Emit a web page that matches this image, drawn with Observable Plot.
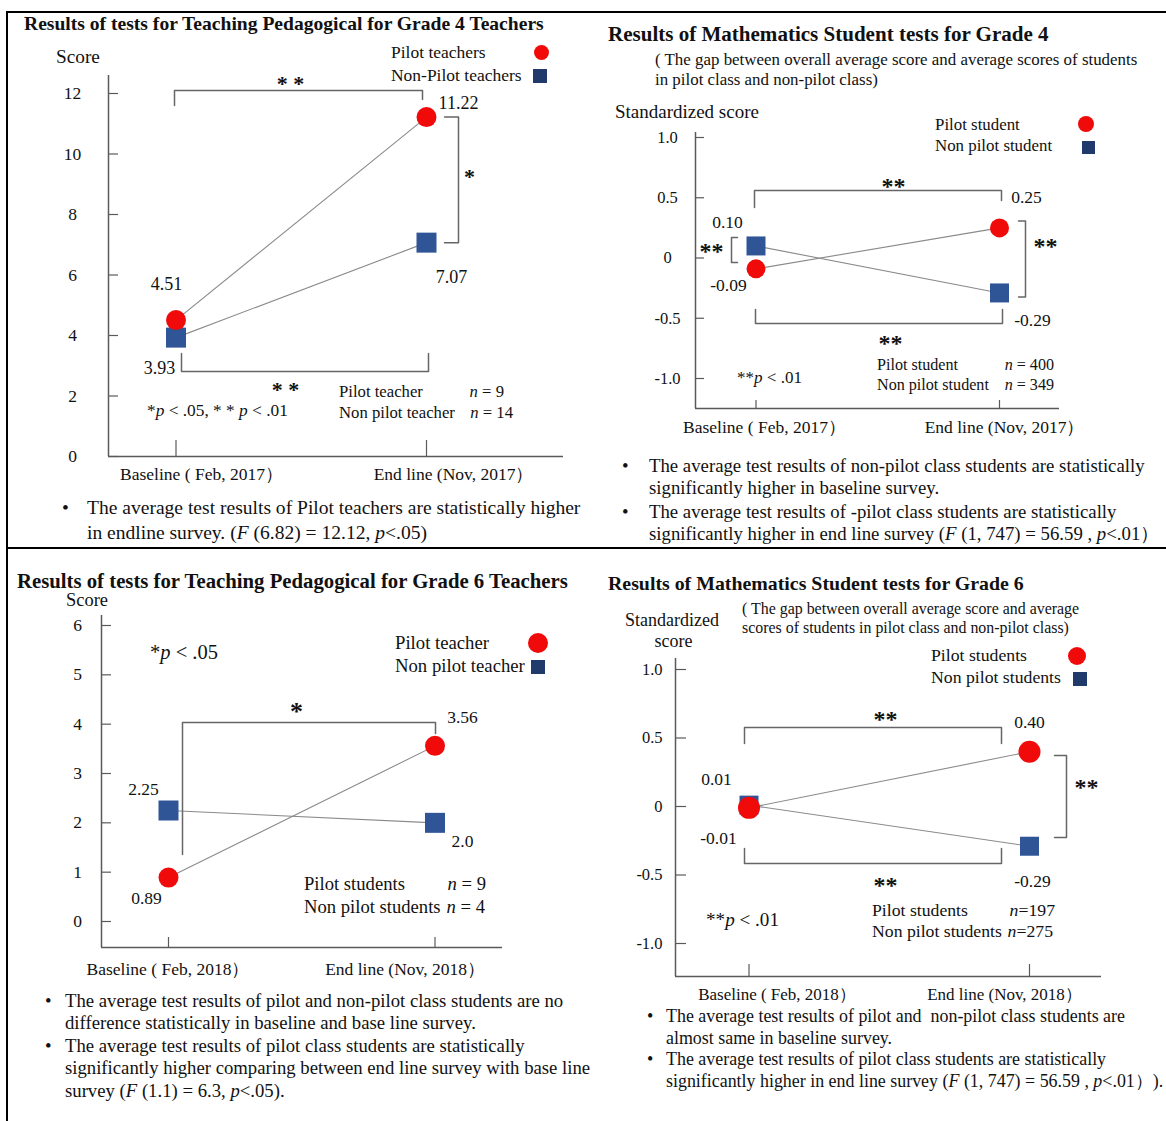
<!DOCTYPE html>
<html><head><meta charset="utf-8">
<script src="https://cdn.jsdelivr.net/npm/d3@7"></script>
<script src="https://cdn.jsdelivr.net/npm/@observablehq/plot@0.6"></script>
<style>
body{margin:0;background:#fff;}
#page{position:relative;width:1166px;height:1121px;overflow:hidden;background:#fff;font-family:"Liberation Serif","Times New Roman",Times,serif;color:#111;}
.t{position:absolute;white-space:pre;line-height:1;}
</style></head>
<body><div id="page"></div>
<script>
// ================= DATA =================
const periods2017 = ["Baseline ( Feb, 2017）", "End line (Nov, 2017）"];
const periods2018 = ["Baseline ( Feb, 2018）", "End line (Nov, 2018）"];

// Grade 4 teachers (score)
const g4TeacherPilot = [4.51, 11.22];
const g4TeacherNonPilot = [3.93, 7.07];
const g4TeacherPilotLabels = ["4.51", "11.22"];
const g4TeacherNonPilotLabels = ["3.93", "7.07"];
const g4TeacherTicks = [0, 2, 4, 6, 8, 10, 12];
const g4TeacherTickLabels = ["0", "2", "4", "6", "8", "10", "12"];
const g4TeacherN = [9, 14];

// Grade 4 students (standardized score)
const g4StudentPilot = [-0.09, 0.25];
const g4StudentNonPilot = [0.10, -0.29];
const g4StudentPilotLabels = ["-0.09", "0.25"];
const g4StudentNonPilotLabels = ["0.10", "-0.29"];
const g4StudentN = [400, 349];

// Grade 6 teachers (score)
const g6TeacherPilot = [0.89, 3.56];
const g6TeacherNonPilot = [2.25, 2.0];
const g6TeacherPilotLabels = ["0.89", "3.56"];
const g6TeacherNonPilotLabels = ["2.25", "2.0"];
const g6TeacherTicks = [0, 1, 2, 3, 4, 5, 6];
const g6TeacherTickLabels = ["0", "1", "2", "3", "4", "5", "6"];
const g6TeacherN = [9, 4];

// Grade 6 students (standardized score)
const g6StudentPilot = [-0.01, 0.40];
const g6StudentNonPilot = [0.01, -0.29];
const g6StudentPilotLabels = ["-0.01", "0.40"];
const g6StudentNonPilotLabels = ["0.01", "-0.29"];
const g6StudentN = [197, 275];

const stdTicks = [-1.0, -0.5, 0, 0.5, 1.0];
const stdTickLabels = ["-1.0", "-0.5", "0", "0.5", "1.0"];

// ================= STYLE =================
const FONT = '"Liberation Serif","Times New Roman",Times,serif';
const RED = "#f00a0a", BLUE = "#2f5597", NAVY = "#1f3a6b";
const LINEC = "#8a8a8a", AXIS = "#5a5a5a", BRC = "#666";
const page = document.getElementById("page");

function addBox(css) {
  const d = document.createElement("div");
  d.style.cssText = "position:absolute;" + css;
  page.appendChild(d);
  return d;
}

// frame lines of the composite figure
addBox("left:7px;top:11px;width:1159px;height:2px;background:#000;");
addBox("left:7px;top:547px;width:1159px;height:2px;background:#000;");
addBox("left:6px;top:11px;width:2px;height:1110px;background:#000;");

function makePanel(cfg) {
  const {box, frame, xPx, yRef} = cfg;
  const xPer = xPx[1] - xPx[0];
  const xAt = p => (p - xPx[0]) / xPer;
  const [[v0, p0], [v1, p1]] = yRef;
  const yPer = (p0 - p1) / (v1 - v0);
  const yAt = p => v0 + (p0 - p) / yPer;
  const ux = d => d / xPer, uy = d => d / yPer;   // pixel offsets -> data units
  const xd = [xAt(frame.l), xAt(frame.r)];
  const yd = [yAt(frame.b), yAt(frame.t)];
  const P = cfg.pilot, N = cfg.non;
  const rec = (vals, labels, offs) => vals.map((v, i) => ({t: i, v, label: labels[i], ox: offs[i][0], oy: offs[i][1]}));
  const pilotRec = rec(P, cfg.pilotLabels, cfg.pilotOff);
  const nonRec = rec(N, cfg.nonLabels, cfg.nonOff);
  const h = {ux, uy, P, N};
  const bracketPts = cfg.brackets(h).flatMap((b, k) => b.map(([x, y]) => ({x, y, k})));
  const stars = cfg.stars(h);
  const svg = Plot.plot({
    width: box.w, height: box.h,
    marginLeft: frame.l - box.x, marginRight: box.x + box.w - frame.r,
    marginTop: frame.t - box.y, marginBottom: box.y + box.h - frame.b,
    x: {type: "linear", domain: xd, axis: null},
    y: {type: "linear", domain: yd, axis: null},
    style: {fontFamily: FONT, fontSize: "16px", color: "#111", background: "transparent", overflow: "visible"},
    marks: [
      Plot.ruleY(cfg.ticks, {y: d => d, x1: xd[0], x2: xd[0] + ux(cfg.yTickLen), stroke: AXIS, strokeWidth: 1.2}),
      Plot.ruleX([0, 1], {x: d => d, y1: yd[0], y2: yd[0] + uy(cfg.xTickLen), stroke: AXIS, strokeWidth: 1.2}),
      Plot.ruleX([xd[0]], {stroke: AXIS, strokeWidth: 1.5}),
      Plot.ruleY([yd[0]], {stroke: AXIS, strokeWidth: 1.5}),
      Plot.text(cfg.ticks, {x: xd[0], y: d => d, text: (d, i) => cfg.tickLabels[i], dx: cfg.tickDx, textAnchor: cfg.tickAnchor, fontSize: cfg.tickSize, fill: "#111"}),
      Plot.text(cfg.periods, {x: (d, i) => i + ux(cfg.periodDx[i]), y: yd[0] - uy(cfg.periodDy), text: d => d, fontSize: cfg.periodSize, fill: "#111"}),
      Plot.line(nonRec, {x: "t", y: "v", stroke: LINEC, strokeWidth: 1.1}),
      Plot.line(pilotRec, {x: "t", y: "v", stroke: LINEC, strokeWidth: 1.1}),
      Plot.line(bracketPts, {x: "x", y: "y", z: "k", stroke: BRC, strokeWidth: 1.5}),
      Plot.text(stars, {x: "x", y: "y", text: "text", fontSize: cfg.starSize, fontWeight: "bold", fill: "#111", dy: 0.16 * cfg.starSize}),
      Plot.dot(nonRec, {x: "t", y: "v", symbol: "square", r: cfg.squareSide / Math.sqrt(Math.PI), fill: BLUE}),
      Plot.dot(pilotRec, {x: "t", y: "v", r: cfg.circleR, fill: RED}),
      Plot.text([...pilotRec, ...nonRec], {x: d => d.t + ux(d.ox), y: d => d.v - uy(d.oy), text: "label", fontSize: cfg.valueSize, fill: "#111"})
    ]
  });
  svg.style.position = "absolute";
  svg.style.left = box.x + "px";
  svg.style.top = box.y + "px";
  svg.style.maxWidth = "none";
  page.appendChild(svg);
}

// ---------- Panel 1: Grade 4 teachers ----------
makePanel({
  box: {x: 8, y: 14, w: 582, h: 520},
  frame: {l: 108, t: 75, r: 563, b: 456},
  xPx: [175.5, 426], yRef: [[0, 456], [12, 93]],
  pilot: g4TeacherPilot, non: g4TeacherNonPilot,
  pilotLabels: g4TeacherPilotLabels, nonLabels: g4TeacherNonPilotLabels,
  pilotOff: [[-9.5, -36], [32, -13.6]], nonOff: [[-16.5, 31], [25, 35]],
  ticks: g4TeacherTicks, tickLabels: g4TeacherTickLabels, tickDx: -36, tickAnchor: "middle", tickSize: 17.5,
  yTickLen: 10, xTickLen: 16,
  periods: periods2017, periodDx: [25.5, 27], periodDy: 18, periodSize: 17.5,
  valueSize: 18, starSize: 22, circleR: 10, squareSide: 20,
  brackets: ({ux, uy, P, N}) => {
    const top = P[1] + uy(26.6), bot = N[0] - uy(33.9), rx = 1 + ux(32);
    return [
      [[0 + ux(-1.5), top - uy(15)], [0 + ux(-1.5), top], [1 + ux(-4), top], [1 + ux(-4), top - uy(9)]],
      [[rx - ux(14), P[1]], [rx, P[1]], [rx, N[1]], [rx - ux(14), N[1]]],
      [[0 + ux(5.5), bot + uy(18)], [0 + ux(5.5), bot], [1 + ux(2), bot], [1 + ux(2), bot + uy(18)]]
    ];
  },
  stars: ({ux, uy, P, N}) => {
    const top = P[1] + uy(26.6), bot = N[0] - uy(33.9);
    return [
      {x: 0.5 + ux(-10.75), y: top + uy(10), text: "* *"},
      {x: 1 + ux(43), y: (P[1] + N[1]) / 2 + uy(6.4), text: "*"},
      {x: 0.5 + ux(-15.75), y: bot - uy(15), text: "* *"}
    ];
  }
});

// ---------- Panel 2: Grade 4 students ----------
makePanel({
  box: {x: 592, y: 14, w: 574, h: 520},
  frame: {l: 695, t: 132, r: 1059, b: 408},
  xPx: [755.5, 999], yRef: [[-1, 378], [1, 137]],
  pilot: g4StudentPilot, non: g4StudentNonPilot,
  pilotLabels: g4StudentPilotLabels, nonLabels: g4StudentNonPilotLabels,
  pilotOff: [[-27.5, 16.7], [27, -30.4]], nonOff: [[-28.5, -23.5], [33, 27.6]],
  ticks: stdTicks, tickLabels: stdTickLabels, tickDx: -28, tickAnchor: "middle", tickSize: 16.5,
  yTickLen: 9, xTickLen: 8,
  periods: periods2017, periodDx: [8.5, 5], periodDy: 19, periodSize: 17.5,
  valueSize: 17.5, starSize: 24, circleR: 9.5, squareSide: 19,
  brackets: ({ux, uy, P, N}) => {
    const top = P[1] + uy(37.4), bot = N[1] - uy(30.6), rx = 1 + ux(26), lx = 0 + ux(-24.5);
    return [
      [[0 + ux(-1.5), top - uy(17)], [0 + ux(-1.5), top], [1 + ux(2), top], [1 + ux(2), top - uy(10)]],
      [[rx - ux(7), P[1] + uy(7)], [rx, P[1] + uy(7)], [rx, N[1] - uy(4)], [rx - ux(7), N[1] - uy(4)]],
      [[lx + ux(6), N[0] + uy(8.5)], [lx, N[0] + uy(8.5)], [lx, P[0] + uy(6.3)], [lx + ux(6), P[0] + uy(6.3)]],
      [[0 + ux(-0.5), bot + uy(14)], [0 + ux(-0.5), bot], [1 + ux(3), bot], [1 + ux(3), bot + uy(14)]]
    ];
  },
  stars: ({ux, uy, P, N}) => {
    const top = P[1] + uy(37.4), bot = N[1] - uy(30.6);
    return [
      {x: 0.5 + ux(15.75), y: top + uy(8), text: "**"},
      {x: 1 + ux(46), y: (P[1] + N[1]) / 2 + uy(17.9), text: "**"},
      {x: 0 + ux(-44.5), y: (P[0] + N[0]) / 2 + uy(9.9), text: "**"},
      {x: 0.5 + ux(12.75), y: bot - uy(16), text: "**"}
    ];
  }
});

// ---------- Panel 3: Grade 6 teachers ----------
makePanel({
  box: {x: 8, y: 551, w: 582, h: 440},
  frame: {l: 101, t: 615, r: 502, b: 947},
  xPx: [168, 434.5], yRef: [[0, 921], [6, 625]],
  pilot: g6TeacherPilot, non: g6TeacherNonPilot,
  pilotLabels: g6TeacherPilotLabels, nonLabels: g6TeacherNonPilotLabels,
  pilotOff: [[-22, 21], [27.5, -28.4]], nonOff: [[-25, -21], [27.5, 18.7]],
  ticks: g6TeacherTicks, tickLabels: g6TeacherTickLabels, tickDx: -24, tickAnchor: "middle", tickSize: 17.5,
  yTickLen: 10, xTickLen: 10,
  periods: periods2018, periodDx: [-0.5, -30], periodDy: 22, periodSize: 17.5,
  valueSize: 17.5, starSize: 26, circleR: 10, squareSide: 20,
  brackets: ({ux, uy, P, N}) => {
    const top = P[1] + uy(23.4);
    return [
      [[0 + ux(14), P[0] + uy(23.1)], [0 + ux(14), top], [1 + ux(0.5), top], [1 + ux(0.5), top - uy(11)]]
    ];
  },
  stars: ({ux, uy, P, N}) => {
    const top = P[1] + uy(23.4);
    return [{x: 0.5 + ux(-5.25), y: top + uy(15), text: "*"}];
  }
});

// ---------- Panel 4: Grade 6 students ----------
makePanel({
  box: {x: 592, y: 551, w: 574, h: 460},
  frame: {l: 675, t: 658, r: 1101, b: 976},
  xPx: [748.5, 1029], yRef: [[-1, 943], [1, 669]],
  pilot: g6StudentPilot, non: g6StudentNonPilot,
  pilotLabels: g6StudentPilotLabels, nonLabels: g6StudentNonPilotLabels,
  pilotOff: [[-30.5, 30.6], [0, -29.2]], nonOff: [[-32.5, -25.6], [3, 35.3]],
  ticks: stdTicks, tickLabels: stdTickLabels, tickDx: -13, tickAnchor: "end", tickSize: 16.5,
  yTickLen: 11, xTickLen: 12,
  periods: periods2018, periodDx: [28, -25], periodDy: 18, periodSize: 17,
  valueSize: 17.5, starSize: 24, circleR: 11, squareSide: 19,
  brackets: ({ux, uy, P, N}) => {
    const top = P[1] + uy(24.2), bot = N[1] - uy(17.3), rx = 1 + ux(37);
    return [
      [[0 + ux(-4.5), top - uy(16)], [0 + ux(-4.5), top], [1 + ux(-28), top], [1 + ux(-28), top - uy(16)]],
      [[rx - ux(12), P[1] - uy(3.8)], [rx, P[1] - uy(3.8)], [rx, N[1] + uy(8.7)], [rx - ux(12), N[1] + uy(8.7)]],
      [[0 + ux(-4.5), bot + uy(15)], [0 + ux(-4.5), bot], [1 + ux(-28), bot], [1 + ux(-28), bot + uy(15)]]
    ];
  },
  stars: ({ux, uy, P, N}) => {
    const top = P[1] + uy(24.2), bot = N[1] - uy(17.3);
    return [
      {x: 0.5 + ux(-3.75), y: top + uy(12), text: "**"},
      {x: 1 + ux(57), y: (P[1] + N[1]) / 2 + uy(15.5), text: "**"},
      {x: 0.5 + ux(-3.75), y: bot - uy(18), text: "**"}
    ];
  }
});

// ================= HTML TEXT =================
function textGroup(base, items, bold) {
  const els = items.map(it => {
    const el = document.createElement("div");
    el.className = "t";
    el.innerHTML = it.h;
    el.style.fontSize = base + "px";
    if (bold) el.style.fontWeight = "bold";
    page.appendChild(el);
    return el;
  });
  const ratios = [];
  items.forEach((it, i) => { if (it.w) ratios.push(it.w / els[i].getBoundingClientRect().width); });
  const fs = ratios.length ? base * d3.mean(ratios) : base;
  items.forEach((it, i) => {
    const el = els[i];
    el.style.fontSize = fs + "px";
    const w = el.getBoundingClientRect().width;
    const left = it.a === "m" ? it.x - w / 2 : it.a === "e" ? it.x - w : it.x;
    el.style.left = left + "px";
    el.style.top = (it.y - 0.54 * fs) + "px";
  });
}
function sym(kind, cx, cy, size, color) {
  addBox(`left:${cx - size / 2}px;top:${cy - size / 2}px;width:${size}px;height:${size}px;background:${color};${kind === "c" ? "border-radius:50%;" : ""}`);
}
const nTxt = (n, sp) => `<i>n</i>${sp ? " = " : "="}${n}`;

// Panel 1 texts
textGroup(19, [{h: "Results of tests for Teaching Pedagogical for Grade 4 Teachers", x: 24, y: 25, w: 520}], true);
textGroup(17, [{h: "Score", x: 56, y: 57, w: 44}]);
textGroup(16, [{h: "Pilot teachers", x: 391, y: 53, w: 95}, {h: "Non-Pilot teachers", x: 391, y: 76, w: 130}]);
sym("c", 541, 52, 15, RED); sym("s", 540, 76, 14, NAVY);
textGroup(16, [{h: "*<i>p</i> &lt; .05, * * <i>p</i> &lt; .01", x: 147, y: 411, w: 141}]);
textGroup(16, [{h: "Pilot teacher", x: 339, y: 393}, {h: nTxt(g4TeacherN[0], true), x: 504, y: 393, a: "e"},
  {h: "Non pilot teacher", x: 339, y: 414, w: 116}, {h: nTxt(g4TeacherN[1], true), x: 513, y: 414, a: "e"}]);
textGroup(17, [{h: "•", x: 62, y: 509}, {h: "The average test results of Pilot teachers are statistically higher", x: 87, y: 509, w: 494},
  {h: "in endline survey. (<i>F</i> (6.82) = 12.12, <i>p</i>&lt;.05)", x: 87, y: 534, w: 340}]);

// Panel 2 texts
textGroup(18, [{h: "Results of Mathematics Student tests for Grade 4", x: 608, y: 35, w: 441}], true);
textGroup(15, [{h: "( The gap between overall average score and average scores of students", x: 655, y: 61, w: 483},
  {h: "in pilot class and non-pilot class)", x: 655, y: 81, w: 223}]);
textGroup(17, [{h: "Standardized score", x: 615, y: 112, w: 144}]);
textGroup(15, [{h: "Pilot student", x: 935, y: 126, w: 85}, {h: "Non pilot student", x: 935, y: 147, w: 117}]);
sym("c", 1086, 124, 16, RED); sym("s", 1088, 147, 13, NAVY);
textGroup(16, [{h: "**<i>p</i> &lt; .01", x: 737, y: 378, w: 65}]);
textGroup(15, [{h: "Pilot student", x: 877, y: 366}, {h: nTxt(g4StudentN[0], true), x: 1054, y: 366, a: "e"},
  {h: "Non pilot student", x: 877, y: 386, w: 112}, {h: nTxt(g4StudentN[1], true), x: 1054, y: 386, a: "e"}]);
textGroup(17, [{h: "•", x: 622, y: 467}, {h: "The average test results of non-pilot class students are statistically", x: 649, y: 467, w: 499},
  {h: "significantly higher in baseline survey.", x: 649, y: 489},
  {h: "•", x: 622, y: 513}, {h: "The average test results of -pilot class students are statistically", x: 649, y: 513, w: 472},
  {h: "significantly higher in end line survey (<i>F</i> (1, 747) = 56.59 , <i>p</i>&lt;.01）", x: 649, y: 535, w: 503}]);

// Panel 3 texts
textGroup(19, [{h: "Results of tests for Teaching Pedagogical for Grade 6 Teachers", x: 17, y: 582, w: 551}], true);
textGroup(17, [{h: "Score", x: 66, y: 601, w: 42}]);
textGroup(18, [{h: "*<i>p</i> &lt; .05", x: 150, y: 653, w: 68}]);
textGroup(17, [{h: "Pilot teacher", x: 395, y: 644, w: 94}, {h: "Non pilot teacher", x: 395, y: 667, w: 130}]);
sym("c", 538, 643, 20, RED); sym("s", 538, 667, 14, NAVY);
textGroup(17, [{h: "Pilot students", x: 304, y: 885, w: 101}, {h: nTxt(g6TeacherN[0], true), x: 486, y: 885, a: "e"},
  {h: "Non pilot students", x: 304, y: 908}, {h: nTxt(g6TeacherN[1], true), x: 485, y: 908, a: "e"}]);
textGroup(17, [{h: "•", x: 45, y: 1002}, {h: "The average test results of pilot and non-pilot class students are no", x: 65, y: 1002, w: 498},
  {h: "difference statistically in baseline and base line survey.", x: 65, y: 1024, w: 411},
  {h: "•", x: 45, y: 1047}, {h: "The average test results of pilot class students are statistically", x: 65, y: 1047, w: 459},
  {h: "significantly higher comparing between end line survey with base line", x: 65, y: 1069, w: 526},
  {h: "survey (<i>F</i> (1.1) = 6.3, <i>p</i>&lt;.05).", x: 65, y: 1092, w: 220}]);

// Panel 4 texts
textGroup(18, [{h: "Results of Mathematics Student tests for Grade 6", x: 608, y: 585, w: 416}], true);
textGroup(17, [{h: "Standardized", x: 672, y: 621, w: 94, a: "m"}, {h: "score", x: 673.5, y: 642, a: "m"}]);
textGroup(14, [{h: "( The gap between overall average score and average", x: 742, y: 610, w: 338},
  {h: "scores of students in pilot class and non-pilot class)", x: 742, y: 629, w: 327}]);
textGroup(16, [{h: "Pilot students", x: 931, y: 657, w: 96}, {h: "Non pilot students", x: 931, y: 679, w: 130}]);
sym("c", 1077, 656, 18, RED); sym("s", 1080, 679, 14, NAVY);
textGroup(18, [{h: "**<i>p</i> &lt; .01", x: 706, y: 920, w: 73}]);
textGroup(16, [{h: "Pilot students", x: 872, y: 912, w: 96}, {h: nTxt(g6StudentN[0], false), x: 1055, y: 912, a: "e"},
  {h: "Non pilot students", x: 872, y: 933}, {h: nTxt(g6StudentN[1], false), x: 1053, y: 933, a: "e"}]);
textGroup(17, [{h: "•", x: 647, y: 1018}, {h: "The average test results of pilot and  non-pilot class students are", x: 666, y: 1018, w: 460},
  {h: "almost same in baseline survey.", x: 666, y: 1040, w: 226},
  {h: "•", x: 647, y: 1061}, {h: "The average test results of pilot class students are statistically", x: 666, y: 1061, w: 440},
  {h: "significantly higher in end line survey (<i>F</i> (1, 747) = 56.59 , <i>p</i>&lt;.01）).", x: 666, y: 1083, w: 497}]);
</script>
</body></html>
